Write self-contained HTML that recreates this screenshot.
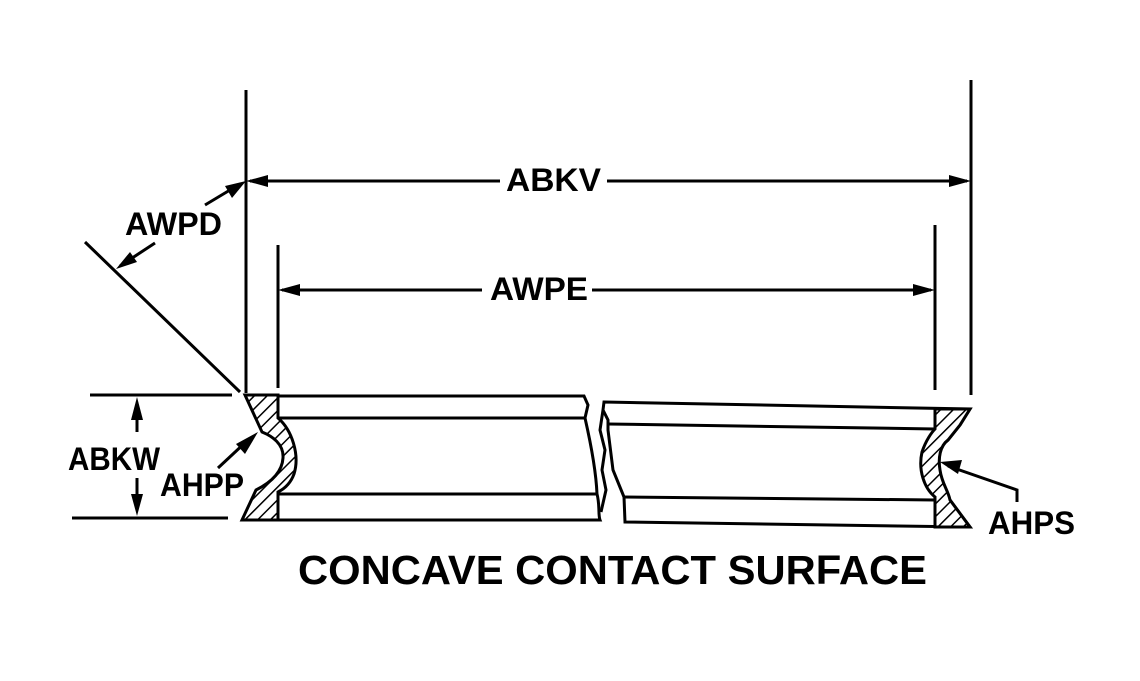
<!DOCTYPE html>
<html><head><meta charset="utf-8"><style>
html,body{margin:0;padding:0;background:#fff;}
svg{display:block}
text{font-family:"Liberation Sans",Arial,sans-serif;font-weight:bold;fill:#000}
</style></head><body>
<svg width="1140" height="681" viewBox="0 0 1140 681" xmlns="http://www.w3.org/2000/svg">
<defs>
<pattern id="h" width="9" height="9" patternUnits="userSpaceOnUse" patternTransform="rotate(45)">
<rect width="9" height="9" fill="#fff"/><line x1="0" y1="0" x2="0" y2="9" stroke="#000" stroke-width="3"/>
</pattern>
</defs>
<g stroke="#000" stroke-width="3" fill="none">
<line x1="246" y1="90" x2="246" y2="393"/>
<line x1="278" y1="245" x2="278" y2="388"/>
<line x1="971" y1="80" x2="971" y2="395"/>
<line x1="935" y1="225" x2="935" y2="390"/>
<line x1="250" y1="181" x2="500" y2="181"/>
<line x1="607" y1="181" x2="967" y2="181"/>
<line x1="282" y1="290" x2="482" y2="290"/>
<line x1="592" y1="290" x2="931" y2="290"/>
<line x1="85" y1="242" x2="240" y2="392"/>
<line x1="205" y1="205" x2="240" y2="184"/>
<line x1="120" y1="266" x2="155" y2="243"/>
<line x1="90" y1="395" x2="232" y2="395"/>
<line x1="72" y1="518" x2="228" y2="518"/>
<line x1="137" y1="410" x2="137" y2="432"/>
<line x1="137" y1="478" x2="137" y2="505"/>
<line x1="218" y1="468" x2="248" y2="440"/>
<polyline points="948,466 1017,490 1017,502"/>
</g>
<g fill="#000" stroke="none">
<polygon points="246,181 268,175 268,187"/>
<polygon points="971,181 949,175 949,187"/>
<polygon points="278,290 300,284 300,296"/>
<polygon points="935,290 913,284 913,296"/>
<polygon points="246,181 225,186 232,198"/>
<polygon points="116,269 130,252 137,262"/>
<polygon points="137,397 131,420 143,420"/>
<polygon points="137,516 131,494 143,494"/>
<polygon points="258,432 236,444 245,454"/>
<polygon points="940,462 962,460 958,474"/>
</g>
<g stroke="#000" stroke-width="3" fill="none">
<polyline points="278,396 584,396 588,405 585,418 278,418"/>
<path d="M585,418 C590,440 596,470 597,494 L278,494"/>
<path d="M597,494 C600,505 598,515 600,520 L242,520"/>
<path d="M245,395 L278,395 L278,418 C292,430 300,455 294,474 C290,485 282,490 278,492 L278,520 L242,520 L256,490 C268,484 282,474 283,458 C284,444 272,436 262,432 Z" fill="url(#h)"/>
</g>
<g stroke="#000" stroke-width="3" fill="none">
<path d="M604,402 L970,409 L960,425 L948,440 C935,450 930,470 936,484 L950,500 L970,527 L625,522 L624,497 L613,470 L608,430 L608,420 L603,410 Z"/>
<line x1="608" y1="424" x2="935" y2="429"/>
<line x1="623" y1="497" x2="935" y2="500"/>
<path d="M935,409 L970,409 L960,425 L948,440 C940,446 938,458 940,470 C942,484 948,490 950,500 L970,527 L935,527 L935,497 C924,488 918,470 922,452 C926,440 932,432 935,429 Z" fill="url(#h)"/>
<path d="M603,410 L600,430 L605,450 L602,470 L606,490 L601,512"/>
</g>
<text x="506" y="191" font-size="32" textLength="95" lengthAdjust="spacingAndGlyphs">ABKV</text>
<text x="490" y="300" font-size="32" textLength="98" lengthAdjust="spacingAndGlyphs">AWPE</text>
<text x="125" y="235" font-size="32" textLength="97" lengthAdjust="spacingAndGlyphs">AWPD</text>
<text x="68" y="470" font-size="32" textLength="92" lengthAdjust="spacingAndGlyphs">ABKW</text>
<text x="160" y="496" font-size="32" textLength="84" lengthAdjust="spacingAndGlyphs">AHPP</text>
<text x="988" y="534" font-size="32" textLength="87" lengthAdjust="spacingAndGlyphs">AHPS</text>
<text x="298" y="584" font-size="41" textLength="629" lengthAdjust="spacingAndGlyphs">CONCAVE CONTACT SURFACE</text>
</svg>
</body></html>
